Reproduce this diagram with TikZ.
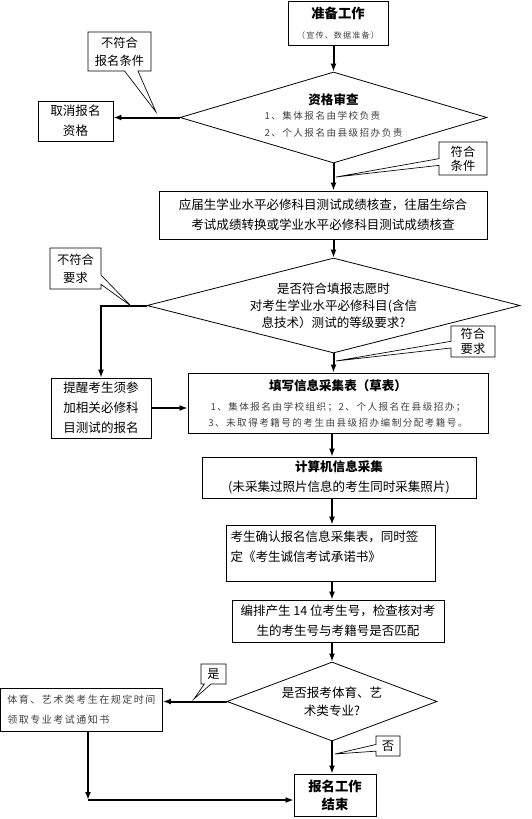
\documentclass[tikz,border=0pt]{standalone}
\usepackage{fontspec}
\setmainfont{Noto Sans CJK SC}
\newfontfamily\smallcjk[LetterSpace=15]{Noto Sans CJK SC}
\usetikzlibrary{shapes.geometric,shapes.callouts,arrows.meta}

\newcommand{\smalltxt}[2][7.2]{{\color{black!75}\smallcjk\fontsize{#1}{15}\selectfont #2}}

\tikzset{
  box/.style={draw, line width=0.6pt, inner sep=0pt, align=center, font=\fontsize{9.4}{15}\selectfont},
  decision/.style={draw, diamond, line width=0.6pt, inner sep=0pt, align=center, font=\fontsize{9.4}{12.75}\selectfont},
  note/.style={rectangle callout, draw, line width=0.5pt, inner sep=0pt, align=center, callout pointer width=5pt, font=\fontsize{9.2}{13.5}\selectfont},
  arr/.style={line width=1.5pt, -{Latex[length=6pt,width=4.5pt]}}
}

\begin{document}
\begin{tikzpicture}[x=0.75pt,y=-0.75pt]
\useasboundingbox (0,0) rectangle (532,819);

% Boxes and decisions
\node[box, minimum width=75pt, minimum height=33pt] (prep) at (338,23) {{\bfseries\fontsize{10}{15}\selectfont 准备工作}\\\smalltxt[6]{（宣传、数据准备）}};
\node[decision, aspect=3.37, minimum width=230.25pt, minimum height=68.25pt] (review) at (333.5,117.5)
  {{\bfseries 资格审查}\\\begin{tabular}{@{}l@{}}\smalltxt{1、集体报名由学校负责}\\\smalltxt{2、个人报名由县级招办负责}\end{tabular}};
\node[box, minimum width=56.25pt, minimum height=30pt] (cancel) at (75.5,121) {取消报名\\资格};
\node[box, minimum width=246pt, minimum height=36pt] (check) at (323,215)
  {应届生学业水平必修科目测试成绩核查，往届生综合\\考试成绩转换或学业水平必修科目测试成绩核查};
\node[decision, aspect=3.93, minimum width=279.75pt, minimum height=71.25pt] (grade) at (333.5,305.5)
  {是否符合填报志愿时\\对考生学业水平必修科目(含信\\息技术）测试的等级要求?};
\node[box, minimum width=75pt, minimum height=45pt] (remind) at (101,408) {提醒考生须参\\加相关必修科\\目测试的报名};
\node[box, minimum width=225pt, minimum height=45pt] (fill) at (338,403)
  {{\bfseries 填写信息采集表（草表）}\\\smalltxt{1、集体报名由学校组织；2、个人报名在县级招办；}\\[-3pt]\smalltxt{3、未取得考籍号的考生由县级招办编制分配考籍号。}};
\node[box, minimum width=205.5pt, minimum height=30.75pt] (pc) at (339,477.5)
  {{\bfseries 计算机信息采集}\\(未采集过照片信息的考生同时采集照片)};
\node[box, align=left, text width=150pt, minimum width=156.75pt, minimum height=42pt] (confirm) at (330.5,553)
  {考生确认报名信息采集表，同时签\\定《考生诚信考试承诺书》\\[-4pt]\mbox{}};
\node[box, minimum width=159pt, minimum height=31.5pt] (number) at (338,621)
  {编排产生 14 位考生号，检查核对考\\生的考生号与考籍号是否匹配};
\node[decision, aspect=2.66, minimum width=157.5pt, minimum height=59.25pt, font=\fontsize{9.4}{13.5}\selectfont] (art) at (332,701.5)
  {是否报考体育、艺\\术类专业?};
\node[box, align=left, minimum width=121.5pt, minimum height=32.25pt] (sport) at (81.5,709.5)
  {\smalltxt[7.5]{体育、艺术类考生在规定时间}\\\smalltxt[7.5]{领取专业考试通知书}};
\node[box, minimum width=61.5pt, minimum height=31.5pt, font=\bfseries\fontsize{10}{13.5}\selectfont] (finish) at (335,795) {报名工作\\结束};

% Callouts
\node[note, minimum width=47.25pt, minimum height=29.25pt, callout pointer width=10pt, callout absolute pointer={(156,112)}] (nofit) at (119.5,51.5) {不符合\\报名条件};
\node[note, minimum width=36pt, minimum height=24.75pt, font=\fontsize{9.2}{10.5}\selectfont, callout absolute pointer={(336,177)}] (fit) at (463,158.5) {符合\\条件};
\node[note, minimum width=38.25pt, minimum height=30.75pt, callout pointer width=7pt, callout absolute pointer={(131,306)}] (nograde) at (75.5,268.5) {不符合\\要求};
\node[note, minimum width=33pt, minimum height=23.25pt, font=\fontsize{9.2}{11.25}\selectfont, callout absolute pointer={(336,361)}] (okgrade) at (473,341.5) {符合\\要求};
\node[note, minimum width=18.75pt, minimum height=15pt, callout absolute pointer={(194,699)}] (yes) at (213.5,674) {是};
\node[note, minimum width=18pt, minimum height=15pt, callout absolute pointer={(335,754)}] (no) at (388,746) {否};

% Arrows
\draw[arr] (prep.south -| review.north) -- (review.north);
\draw[arr] (review.west) -- (review.west -| cancel.east);
\draw[arr] (review.south) -- (review.south |- check.north);
\draw[arr] (check.south -| grade.north) -- (grade.north);
\draw[arr] (grade.west) -- (grade.west -| remind.north) -- (remind.north);
\draw[arr] (grade.south) -- (grade.south |- fill.north);
\draw[arr] (remind.east) -- (remind.east -| fill.west);
\draw[arr] (fill.south -| art.north) -- (pc.north -| art.north);
\draw[arr] (pc.south -| art.north) -- (confirm.north -| art.north);
\draw[arr] (confirm.south -| art.north) -- (number.north -| art.north);
\draw[arr] (number.south -| art.north) -- (art.north);
\draw[arr] (art.west) -- (art.west -| sport.east);
\coordinate (turn) at (88,800);
\draw[arr] (sport.south -| turn) -- (turn);
\draw[arr] (turn) -- (turn -| finish.west);
\draw[arr] (art.south) -- (art.south |- finish.north);

\end{tikzpicture}
\end{document}
